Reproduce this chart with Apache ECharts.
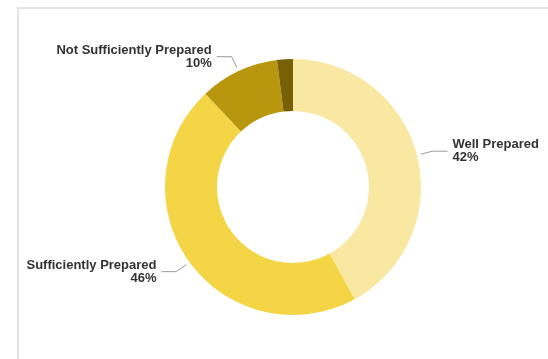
<!DOCTYPE html>
<html>
<head>
<meta charset="utf-8">
<script src="https://cdn.jsdelivr.net/npm/echarts@6/dist/echarts.min.js"></script>
<style>
  html, body { margin: 0; padding: 0; background: #fff; }
  #chart { width: 548px; height: 359px; }
</style>
</head>
<body>
<div id="chart"></div>
<script>
// Preparedness breakdown (share of respondents, %)
const categories = ['Well Prepared', 'Sufficiently Prepared', 'Not Sufficiently Prepared', 'Not Prepared'];
const shares = [42, 46, 10, 2];
const sliceColors = ['#F9E8A1', '#F4D545', '#B8970F', '#776006'];
const labelled = [true, true, true, false];

const chart = echarts.init(document.getElementById('chart'), null, { renderer: 'canvas' });

const ringData = categories.map((name, i) => ({
  name: name,
  value: shares[i],
  itemStyle: { color: sliceColors[i] }
}));

// Same slices on a slightly larger invisible ring: carries the labels so
// the leader lines start just off the donut's outer edge.
const labelData = categories.map((name, i) => ({
  name: name,
  value: shares[i],
  itemStyle: { color: 'rgba(0,0,0,0)' },
  label: { show: labelled[i] },
  labelLine: { show: labelled[i] }
}));

const center = [293, 187];

chart.setOption({
  animation: false,
  backgroundColor: '#ffffff',
  graphic: [{
    type: 'rect',
    shape: { x: 18, y: 8, width: 620, height: 400 },
    style: { fill: 'none', stroke: '#e4e4e4', lineWidth: 2 },
    silent: true
  }],
  series: [
    {
      type: 'pie',
      center: center,
      radius: [76, 128],
      startAngle: 90,
      clockwise: true,
      silent: true,
      itemStyle: { borderWidth: 0 },
      label: { show: false },
      labelLine: { show: false },
      emphasis: { disabled: true },
      data: ringData
    },
    {
      type: 'pie',
      center: center,
      radius: [76, 132],
      startAngle: 90,
      clockwise: true,
      silent: true,
      avoidLabelOverlap: false,
      itemStyle: { borderWidth: 0 },
      emphasis: { disabled: true },
      label: {
        show: true,
        position: 'outside',
        formatter: p => p.name + '\n' + p.value + '%',
        fontFamily: 'Liberation Sans',
        fontWeight: 'bold',
        fontSize: 13,
        lineHeight: 13,
        color: '#333333',
        distanceToLabelLine: 5
      },
      labelLine: {
        show: true,
        length: 12,
        length2: 15,
        lineStyle: { color: '#9a9a9a', width: 1 }
      },
      data: labelData
    }
  ]
});
</script>
</body>
</html>
